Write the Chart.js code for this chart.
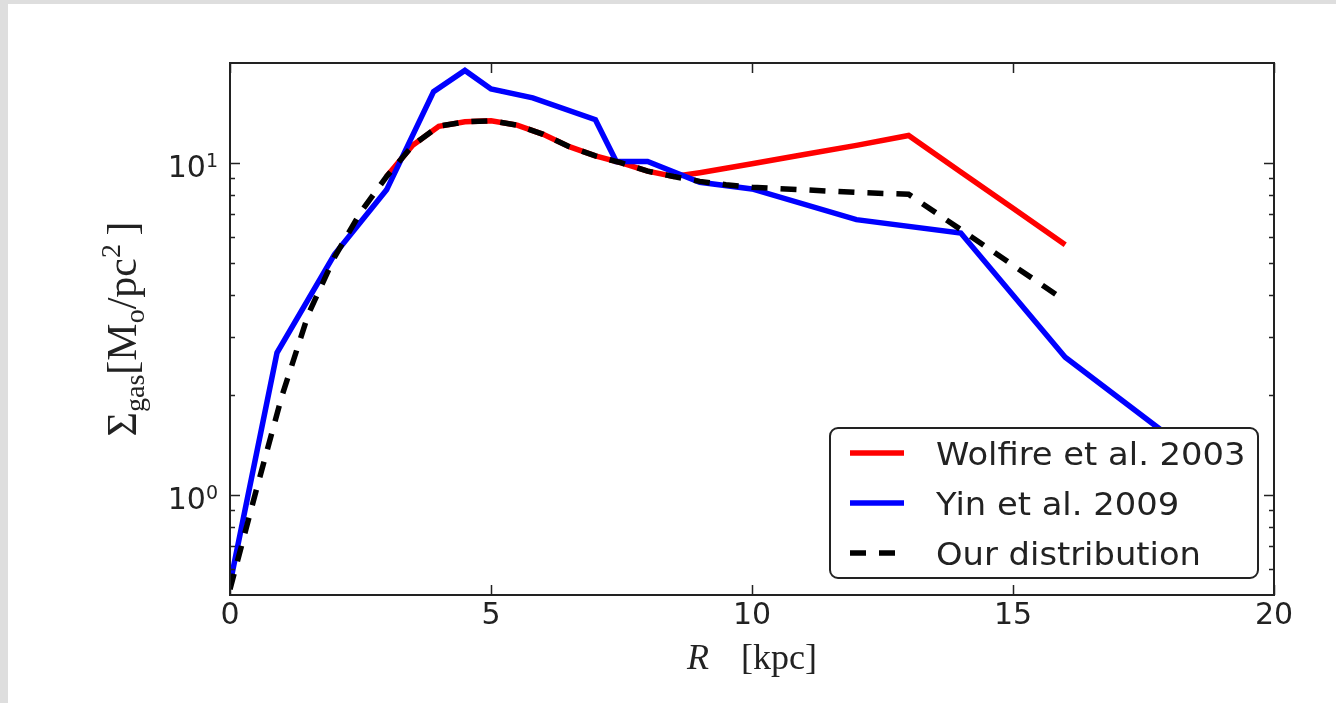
<!DOCTYPE html>
<html>
<head>
<meta charset="utf-8">
<title>Gas surface density profile</title>
<script src="https://cdn.jsdelivr.net/npm/chart.js@4.4.0/dist/chart.umd.min.js"></script>
<style>
    html, body { margin: 0; padding: 0; background: #fff; }
    canvas { display: block; }
</style>
</head>
<body>
<canvas id="gasChart" width="1336" height="703"></canvas>
<script>
"use strict";

// Yin et al. 2009
const rYin = [0, 0.9, 2, 3, 3.9, 4.5, 5, 5.8, 7, 7.4, 8, 9, 10, 12, 14, 16, 18];
const sigmaYin = [0.54, 2.68, 5.3, 8.3, 16.4, 19.0, 16.7, 15.7, 13.5, 10.1, 10.1, 8.75, 8.35, 6.75, 6.15, 2.6, 1.5];

// Wolfire et al. 2003
const rWolfire = [3, 3.5, 4, 4.5, 5, 5.5, 6, 6.5, 7, 7.5, 8, 8.5, 9, 10, 11, 12, 13, 14, 15, 16];
const sigmaWolfire = [9.1, 11.3, 12.9, 13.3, 13.4, 13.0, 12.2, 11.2, 10.5, 10.0, 9.45, 9.1, 9.35, 9.95, 10.6, 11.3, 12.1, 9.4, 7.3, 5.67];

// our distribution
const rOurs = [0, 0.5, 1, 1.5, 2, 2.5, 3, 3.5, 4, 4.5, 5, 5.5, 6, 6.5, 7, 7.5, 8, 8.5, 9, 9.5, 10, 11, 12, 13, 14, 15, 16];
const sigmaOurs = [0.52, 1.03, 2.0, 3.5, 5.2, 7.1, 9.1, 11.3, 12.9, 13.3, 13.4, 13.0, 12.2, 11.2, 10.5, 10.0, 9.45, 9.1, 8.8, 8.6, 8.45, 8.3, 8.15, 8.05, 6.3, 4.92, 3.85];

// ticks
const xTicks = [0, 5, 10, 15, 20];
const yMajorTicks = [1, 10];
const yMajorLabels = [['10', '0'], ['10', '1']];
const yMinorTicks = [0.6, 0.7, 0.8, 0.9, 2, 3, 4, 5, 6, 7, 8, 9];

const toPoints = (xs, ys) => xs.map((x, i) => ({ x: x, y: ys[i] }));

const SANS = '"DejaVu Sans", "Bitstream Vera Sans", sans-serif';
const SERIF = '"Liberation Serif", "DejaVu Serif", serif';
const INK = '#222';

// fillText with an optional horizontal stretch
function drawText(ctx, str, x, y, font, align, sx) {
    ctx.save();
    ctx.translate(x, y);
    ctx.scale(sx || 1, 1);
    ctx.font = font;
    ctx.textAlign = align || 'left';
    ctx.textBaseline = 'alphabetic';
    ctx.fillText(str, 0, 0);
    ctx.restore();
}

// axes box, inward ticks and tick labels
function drawAxes(chart) {
    const ctx = chart.ctx;
    const area = chart.chartArea;
    const xs = chart.scales.x;
    const ys = chart.scales.y;

    ctx.save();
    ctx.strokeStyle = INK;
    ctx.fillStyle = INK;

    ctx.lineWidth = 1.5;
    ctx.beginPath();
    xTicks.forEach(v => {
        const px = Math.round(xs.getPixelForValue(v)) + 0.5;
        ctx.moveTo(px, area.bottom);
        ctx.lineTo(px, area.bottom - 10);
        ctx.moveTo(px, area.top);
        ctx.lineTo(px, area.top + 10);
    });
    yMajorTicks.forEach(v => {
        const py = Math.round(ys.getPixelForValue(v)) + 0.5;
        ctx.moveTo(area.left, py);
        ctx.lineTo(area.left + 10, py);
        ctx.moveTo(area.right, py);
        ctx.lineTo(area.right - 10, py);
    });
    yMinorTicks.forEach(v => {
        const py = Math.round(ys.getPixelForValue(v)) + 0.5;
        ctx.moveTo(area.left, py);
        ctx.lineTo(area.left + 5, py);
        ctx.moveTo(area.right, py);
        ctx.lineTo(area.right - 5, py);
    });
    ctx.stroke();

    ctx.lineWidth = 2;
    ctx.strokeRect(area.left, area.top, area.right - area.left, area.bottom - area.top);

    // x tick labels
    xTicks.forEach(v => {
        drawText(ctx, String(v), xs.getPixelForValue(v), area.bottom + 29, '30px ' + SANS, 'center');
    });

    // y tick labels as 10^n
    yMajorTicks.forEach((v, i) => {
        const py = ys.getPixelForValue(v);
        const right = area.left - 12;
        ctx.font = '19px ' + SANS;
        const wSup = ctx.measureText(yMajorLabels[i][1]).width;
        drawText(ctx, yMajorLabels[i][1], right - wSup, py + 4, '19px ' + SANS, 'left');
        drawText(ctx, yMajorLabels[i][0], right - wSup, py + 14, '30px ' + SANS, 'right');
    });
    ctx.restore();
}

// axis titles: R [kpc] and Sigma_gas [M_o / pc^2]
function drawTitles(chart) {
    const ctx = chart.ctx;
    const area = chart.chartArea;
    const cx = (area.left + area.right) / 2;

    ctx.save();
    ctx.fillStyle = INK;

    ctx.font = 'italic 36px ' + SERIF;
    const wR = ctx.measureText('R').width;
    ctx.font = '36px ' + SERIF;
    const wUnit = ctx.measureText('[kpc]').width;
    const gap = 32;
    const startX = cx - (wR + gap + wUnit) / 2;
    drawText(ctx, 'R', startX, area.bottom + 74, 'italic 36px ' + SERIF);
    drawText(ctx, '[kpc]', startX + wR + gap, area.bottom + 74, '36px ' + SERIF);

    // rotated y title, built from pieces with sub/superscripts
    const pieces = [
        { t: '\u03a3', size: 42, dy: 0 },
        { t: 'gas', size: 28, dy: 8 },
        { t: '[M', size: 42, dy: 0 },
        { t: 'o', size: 28, dy: 8 },
        { t: '/pc', size: 42, dy: 0 },
        { t: '2', size: 28, dy: -16 },
        { t: '\u2009]', size: 42, dy: 0 }
    ];
    let total = 0;
    pieces.forEach(p => {
        ctx.font = p.size + 'px ' + SERIF;
        p.w = ctx.measureText(p.t).width;
        total += p.w;
    });
    ctx.translate(136, (area.top + area.bottom) / 2);
    ctx.rotate(-Math.PI / 2);
    let px = -total / 2;
    pieces.forEach(p => {
        drawText(ctx, p.t, px, p.dy, p.size + 'px ' + SERIF);
        px += p.w;
    });
    ctx.restore();
}

// boxed legend in the lower right of the axes
function drawLegend(chart) {
    const ctx = chart.ctx;
    const box = { x: 830, y: 428, w: 428, h: 150 };

    ctx.save();
    ctx.beginPath();
    ctx.roundRect(box.x, box.y, box.w, box.h, 8);
    ctx.fillStyle = '#fff';
    ctx.fill();
    ctx.lineWidth = 2;
    ctx.strokeStyle = INK;
    ctx.stroke();

    chart.data.datasets.forEach((ds, i) => {
        const y = box.y + 25 + i * 50;
        ctx.beginPath();
        ctx.lineWidth = ds.borderWidth;
        ctx.strokeStyle = ds.borderColor;
        ctx.lineCap = 'butt';
        ctx.setLineDash(ds.borderDash || []);
        ctx.moveTo(box.x + 20, y);
        ctx.lineTo(box.x + 74, y);
        ctx.stroke();
        ctx.setLineDash([]);
        ctx.fillStyle = INK;
        drawText(ctx, ds.label, box.x + 106, y + 12, '32px ' + SANS, 'left', 1.055);
    });
    ctx.restore();
}

const axesPlugin = {
    id: 'axesFrame',
    beforeDraw(chart) {
        const ctx = chart.ctx;
        ctx.save();
        ctx.fillStyle = '#dedede';
        ctx.fillRect(0, 0, chart.width, chart.height);
        ctx.fillStyle = '#ffffff';
        ctx.fillRect(8, 4, chart.width - 8, chart.height - 4);
        ctx.restore();
    },
    afterDatasetsDraw(chart) {
        drawAxes(chart);
        drawTitles(chart);
        drawLegend(chart);
    }
};

const ctx = document.getElementById('gasChart');

new Chart(ctx, {
    type: 'line',
    data: {
        datasets: [{
            label: 'Wolfire et al. 2003',
            data: toPoints(rWolfire, sigmaWolfire),
            borderColor: '#ff0000',
            borderWidth: 5.5,
            order: 3
        }, {
            label: 'Yin et al. 2009',
            data: toPoints(rYin, sigmaYin),
            borderColor: '#0000ff',
            borderWidth: 5.5,
            order: 2
        }, {
            label: 'Our distribution',
            data: toPoints(rOurs, sigmaOurs),
            borderColor: '#000000',
            borderWidth: 5.5,
            borderDash: [16, 13],
            order: 1
        }]
    },
    options: {
        responsive: false,
        animation: false,
        events: [],
        layout: {
            padding: { left: 230, right: 62, top: 63, bottom: 108 }
        },
        elements: {
            point: { radius: 0 },
            line: { tension: 0, borderJoinStyle: 'miter', borderCapStyle: 'butt' }
        },
        scales: {
            x: { type: 'linear', min: 0, max: 20, display: false },
            y: { type: 'logarithmic', min: 0.5, max: 20, display: false }
        },
        plugins: {
            legend: { display: false },
            tooltip: { enabled: false }
        }
    },
    plugins: [axesPlugin]
});
</script>
</body>
</html>
